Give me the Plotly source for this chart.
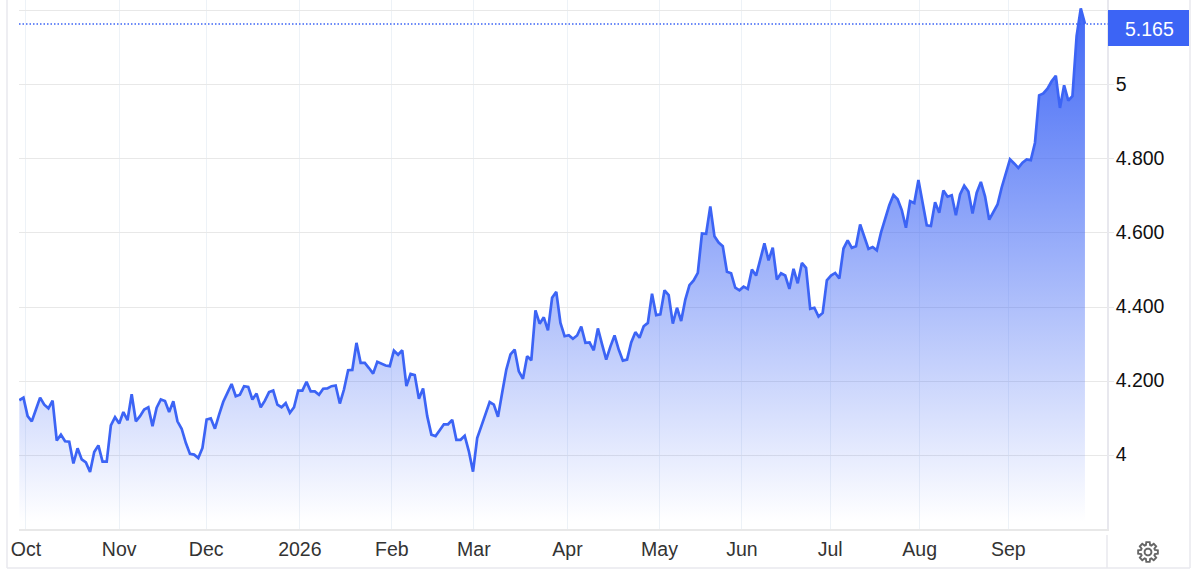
import math
import plotly.graph_objects as go

values = [
    4.148,4.155,4.105,4.091,4.123,4.155,4.136,4.126,4.147,4.039,4.055,4.037,4.036,3.977,4.018,3.988,3.98,3.954,4.008,4.026,3.982,3.982,4.08,4.102,4.085,4.116,4.094,4.164,4.091,
    4.105,4.123,4.129,4.078,4.128,4.15,4.146,4.116,4.145,4.091,4.071,4.033,4.003,4.001,3.992,4.019,4.096,4.099,4.071,4.109,4.144,4.168,4.192,4.159,4.163,4.186,4.184,
    4.15,4.166,4.129,4.147,4.17,4.174,4.136,4.129,4.14,4.114,4.129,4.174,4.174,4.198,4.172,4.172,4.163,4.179,4.18,4.186,4.188,4.139,4.177,4.229,4.23,4.303,4.249,4.249,4.235,
    4.22,4.252,4.247,4.242,4.24,4.282,4.271,4.283,4.186,4.219,4.216,4.152,4.18,4.105,4.055,4.051,4.067,4.083,4.083,4.095,4.041,4.041,4.052,4.01,3.955,4.046,4.078,4.112,
    4.143,4.136,4.103,4.168,4.231,4.272,4.285,4.226,4.206,4.267,4.256,4.391,4.355,4.372,4.337,4.425,4.441,4.357,4.321,4.324,4.314,4.323,4.347,4.303,4.304,4.283,4.342,
    4.299,4.258,4.293,4.323,4.285,4.255,4.258,4.304,4.332,4.317,4.348,4.357,4.436,4.378,4.38,4.445,4.432,4.355,4.398,4.362,4.42,4.459,4.472,4.492,4.599,4.598,4.672,4.591,
    4.574,4.564,4.495,4.491,4.452,4.445,4.455,4.449,4.501,4.485,4.528,4.572,4.526,4.56,4.474,4.491,4.485,4.449,4.503,4.464,4.519,4.506,4.395,4.398,4.374,4.384,4.472,
    4.485,4.492,4.477,4.558,4.58,4.56,4.564,4.623,4.591,4.557,4.562,4.553,4.601,4.636,4.675,4.703,4.691,4.662,4.614,4.686,4.681,4.743,4.682,4.621,4.619,4.683,4.655,4.715,
    4.698,4.702,4.648,4.704,4.728,4.712,4.653,4.709,4.738,4.699,4.636,4.655,4.677,4.723,4.758,4.799,4.788,4.776,4.79,4.799,4.797,4.844,4.972,4.977,4.99,5.01,5.025,4.938,4.999,4.958,4.97,5.132,5.207,5.165,
]
month_labels = ["Oct","Nov","Dec","2026","Feb","Mar","Apr","May","Jun","Jul","Aug","Sep"]
month_index = [1.6,24,44.9,67.4,89.5,109.2,131.7,153.8,173.6,194.8,216.3,237.6]
y_ticks = [4,4.2,4.4,4.6,4.8,5,5.2]
y_labels = ["4","4.200","4.400","4.600","4.800","5","5.200"]
last_value = 5.165

BLUE = "#3c64f5"
L, R, T, B = 19, 1107, 0, 529
W, H = 1200, 571
FONT = "Liberation Sans"

def px(x): return (x - L) / (R - L)
def py(y): return (B - y) / (B - T)

fig = go.Figure()
fig.add_trace(go.Scatter(
    x=list(range(len(values))), y=values, mode="lines",
    line=dict(color=BLUE, width=2.7, shape="linear"),
    fill="tozeroy",
    fillgradient=dict(type="vertical", start=5.21, stop=3.82,
                      colorscale=[[0,"rgba(60,100,245,0.98)"],[1,"rgba(60,100,245,0)"]]),
    hoverinfo="skip", showlegend=False,
))

def seg(x0,y0,x1,y1,color="#e8e8ee",width=1.5,dash="solid"):
    return dict(type="line",xref="paper",yref="paper",x0=px(x0),x1=px(x1),y0=py(y0),y1=py(y1),
                line=dict(color=color,width=width,dash=dash),layer="above")

shapes = [
    seg(7,0,7,568), seg(7,568,1190,568), seg(1190,0,1190,568),
    seg(1107,535,1107,568),
    dict(type="line",xref="paper",yref="y",x0=px(19),x1=px(1108),y0=last_value,y1=last_value,
         line=dict(color=BLUE,width=1.5,dash="1.5px,2px"),layer="above"),
    dict(type="rect",xref="paper",yref="paper",x0=px(1108),x1=px(1189),y0=py(10),y1=py(46),
         fillcolor=BLUE,line=dict(width=0),layer="above"),
]

# gear icon outline
cx, cy = 1148, 552
pts = []
n = 8
for i in range(n):
    a = 2*math.pi*i/n
    for da, r in [(-0.30,7.2),(-0.17,10),(0.17,10),(0.30,7.2)]:
        pts.append((cx+r*math.cos(a+da), cy+r*math.sin(a+da)))
d = "M " + " L ".join(f"{px(x):.5f},{py(y):.5f}" for x,y in pts) + " Z"
ring = [(cx+3.4*math.cos(2*math.pi*i/24), cy+3.4*math.sin(2*math.pi*i/24)) for i in range(24)]
d2 = "M " + " L ".join(f"{px(x):.5f},{py(y):.5f}" for x,y in ring) + " Z"
gear_line = dict(color="#666666", width=1.9)
shapes.append(dict(type="path",xref="paper",yref="paper",path=d,line=gear_line,layer="above"))
shapes.append(dict(type="path",xref="paper",yref="paper",path=d2,line=gear_line,layer="above"))

fig.update_layout(
    width=W, height=H, autosize=False,
    margin=dict(l=L, r=W-R, t=T, b=H-B, pad=0),
    paper_bgcolor="white", plot_bgcolor="white",
    font=dict(family=FONT, size=19.5, color="#111111"),
    showlegend=False, shapes=shapes,
    xaxis=dict(range=[-0.07,261.3], tickmode="array", tickvals=month_index, ticktext=month_labels,
               showgrid=True, gridcolor="#edf2f7", gridwidth=1.2, zeroline=False,
               showline=True, linecolor="#e8e8e8", linewidth=2, ticks="",
               ticklabelstandoff=2,
               tickfont=dict(size=19.5, color="#333333", family=FONT), fixedrange=True),
    yaxis=dict(range=[3.8,5.2297], side="right", tickmode="array", tickvals=y_ticks, ticktext=y_labels,
               showgrid=True, gridcolor="#e8e8e8", gridwidth=1.2, zeroline=False,
               showline=True, linecolor="#e8e8ee", linewidth=1.5,
               ticks="outside", ticklen=5, tickcolor="#e8e8e8", tickwidth=1.2,
               ticklabelstandoff=-2, ticklabelshift=-1,
               tickfont=dict(size=19.5, color="#111111", family=FONT), fixedrange=True),
    annotations=[dict(xref="paper",yref="paper",x=px(1149),y=py(29),text=f"{last_value:.3f}",showarrow=False,
                      font=dict(size=19.5,color="white",family=FONT),xanchor="center",yanchor="middle")],
)
fig.write_html("out.html", config=dict(displayModeBar=False),
               post_script="document.body.style.margin='0';document.body.style.overflow='hidden';")
